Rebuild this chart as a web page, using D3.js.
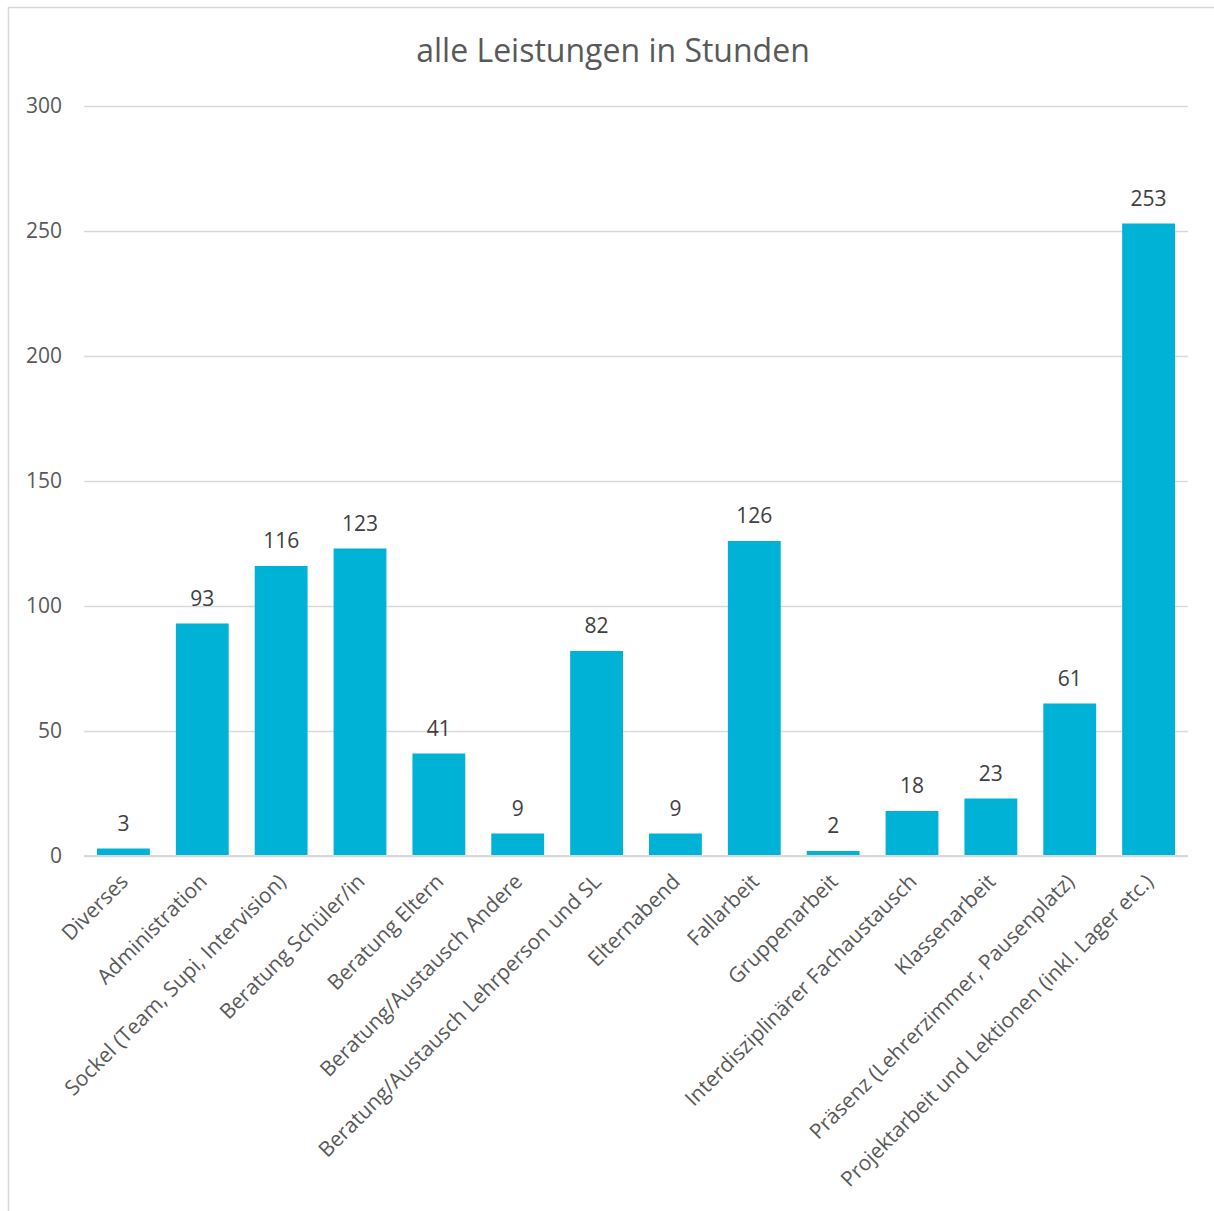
<!DOCTYPE html>
<html>
<head>
<meta charset="utf-8">
<script src="https://cdn.jsdelivr.net/npm/d3@7"></script>
<style>
  html, body { margin: 0; padding: 0; background: #fff; }
  svg { display: block; }
  text { font-family: "Open Sans", "Noto Sans", sans-serif; }
</style>
</head>
<body>
<div id="chart"></div>
<script>
// Hours per service category
const categories = [
  "Diverses",
  "Administration",
  "Sockel (Team, Supi, Intervision)",
  "Beratung Schüler/in",
  "Beratung Eltern",
  "Beratung/Austausch Andere",
  "Beratung/Austausch Lehrperson und SL",
  "Elternabend",
  "Fallarbeit",
  "Gruppenarbeit",
  "Interdisziplinärer Fachaustausch",
  "Klassenarbeit",
  "Präsenz (Lehrerzimmer, Pausenplatz)",
  "Projektarbeit und Lektionen (inkl. Lager etc.)"
];
const hours = [3, 93, 116, 123, 41, 9, 82, 9, 126, 2, 18, 23, 61, 253];
const yTicks = [0, 50, 100, 150, 200, 250, 300];
const title = "alle Leistungen in Stunden";

const W = 1214, H = 1211;
const plot = { left: 84, right: 1188, top: 106, bottom: 856 };

const svg = d3.select("#chart").append("svg")
  .attr("width", W).attr("height", H);

// chart frame
svg.append("rect")
  .attr("x", 8.5).attr("y", 7.5)
  .attr("width", W + 10).attr("height", H + 10)
  .attr("fill", "#fff").attr("stroke", "#d9d9d9").attr("stroke-width", 1.5);

const x = d3.scaleBand()
  .domain(categories)
  .range([plot.left, plot.right])
  .paddingInner(0.33).paddingOuter(0.165);

const y = d3.scaleLinear()
  .domain([0, 300])
  .range([plot.bottom, plot.top]);

// title
svg.append("text")
  .attr("x", 613).attr("y", 62)
  .attr("text-anchor", "middle")
  .attr("font-size", 32)
  .attr("fill", "#595959")
  .text(title);

// gridlines + y labels
const yAxis = d3.axisLeft(y).tickValues(yTicks)
  .tickSize(-(plot.right - plot.left)).tickPadding(22);
const gy = svg.append("g")
  .attr("transform", `translate(${plot.left},0)`)
  .call(yAxis);
gy.select(".domain").remove();
gy.selectAll(".tick line").attr("stroke", "#d9d9d9").attr("stroke-width", 1.5);
gy.selectAll(".tick text")
  .attr("font-size", 21).attr("fill", "#595959")
  .attr("font-family", "'Open Sans', sans-serif");

// bars
svg.append("g").selectAll("rect")
  .data(hours)
  .join("rect")
  .attr("x", (d, i) => x(categories[i]))
  .attr("y", d => y(d))
  .attr("width", x.bandwidth())
  .attr("height", d => y(0) - y(d))
  .attr("fill", "#00b2d6");

// x axis line and rotated category labels
const xAxis = d3.axisBottom(x).tickSize(0).tickPadding(0);
const gx = svg.append("g")
  .attr("transform", `translate(0,${plot.bottom})`)
  .call(xAxis);
gx.select(".domain").attr("stroke", "#d9d9d9").attr("stroke-width", 2)
  .attr("d", `M${plot.left},0H${plot.right}`);
gx.selectAll(".tick text")
  .attr("font-size", 21).attr("fill", "#595959")
  .attr("font-family", "'Open Sans', sans-serif")
  .attr("text-anchor", "end")
  .attr("dy", null)
  .attr("transform", "translate(6,27) rotate(-45)");

// value labels
svg.append("g").selectAll("text")
  .data(hours)
  .join("text")
  .attr("x", (d, i) => x(categories[i]) + x.bandwidth() / 2)
  .attr("y", d => y(d) - 18)
  .attr("text-anchor", "middle")
  .attr("font-size", 21)
  .attr("fill", "#404040")
  .text(d => d);
</script>
</body>
</html>
